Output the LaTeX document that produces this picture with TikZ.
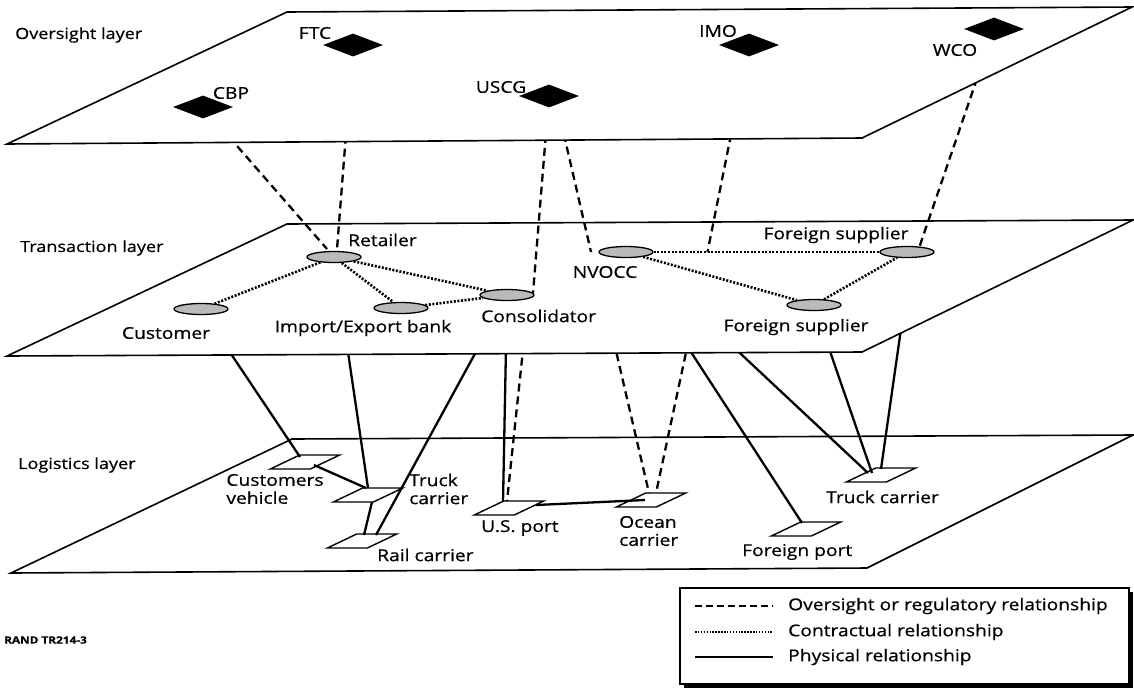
\documentclass[tikz,border=0pt]{standalone}
\usepackage{fontspec}
\setmainfont{Open Sans}[FakeStretch=1.18, FakeBold=0.6]
\usetikzlibrary{shapes.geometric,calc}
\pgfdeclarelayer{pa}\pgfdeclarelayer{pb}\pgfdeclarelayer{pc}\pgfdeclarelayer{pd}\pgfdeclarelayer{pe}
\pgfsetlayers{pa,pb,pc,pd,pe,main}
\begin{document}
\begin{tikzpicture}[x=1pt,y=-1pt,
  plane/.style={draw, fill=white, line width=1.6pt, line join=miter},
  reg/.style={diamond, fill=black, minimum width=60pt, minimum height=23pt, inner sep=0pt},
  party/.style={ellipse, draw, fill=black!27, line width=1.3pt, minimum width=54pt, minimum height=11pt, inner sep=0pt},
  site/.style={draw, fill=white, line width=1.4pt, xslant=2.1, minimum width=40pt, minimum height=14pt, inner sep=0pt},
  lbl/.style={font=\fontsize{16.3}{18}\selectfont, inner sep=0pt, align=left},
  layerlbl/.style={font=\fontsize{15.3}{17}\selectfont, anchor=west, inner sep=0pt},
  oversee/.style={line width=2.3pt, dash pattern=on 8pt off 5pt},
  contract/.style={line width=2.6pt, dash pattern=on 2pt off 1.6pt},
  phys/.style={line width=2.3pt},
]
\useasboundingbox (0,0) rectangle (1134,694);

% ---------- logistics layer ----------
\begin{pgfonlayer}{pa}
\draw[plane] (292,439) -- (1133,435) -- (867,568) -- (11,573) -- cycle;
\node[layerlbl] at (18,465) {Logistics layer};
\node[site] (cv)   at (305,462) {};
\node[site] (tcl)  at (368,495) {};
\node[site] (rail) at (362,541) {};
\node[site] (usp)  at (509,508) {};
\node[site] (ocn)  at (651,500) {};
\node[site] (fpt)  at (806,529) {};
\node[site] (tcr)  at (881,475) {};
\node[lbl, anchor=center] at (275,489) {Customers\\vehicle};
\node[lbl, anchor=west] at (409,489) {Truck\\carrier};
\node[lbl, anchor=west] at (377,555) {Rail carrier};
\node[lbl, anchor=west] at (481,528) {U.S. port};
\node[lbl, anchor=west] at (619,531) {Ocean\\carrier};
\node[lbl, anchor=west] at (742,552) {Foreign port};
\node[lbl, anchor=west] at (826,497) {Truck carrier};
\end{pgfonlayer}

% ---------- transaction layer ----------
\begin{pgfonlayer}{pc}
\draw[plane] (287,224) -- (1133,220) -- (862,352) -- (7,356) -- cycle;
\node[layerlbl] at (20,248) {Transaction layer};
\end{pgfonlayer}

\begin{pgfonlayer}{pd}
\node[party] (ret)  at (334,257) {};
\node[party] (cust) at (201,309) {};
\node[party] (bank) at (401,308) {};
\node[party] (cons) at (507,295) {};
\node[party] (nvo)  at (626,252) {};
\node[party] (fst)  at (907,252) {};
\node[party] (fsb)  at (814,305) {};
\node[lbl, anchor=west] at (348,240) {Retailer};
\node[lbl] at (166,333) {Customer};
\node[lbl] at (363,328) {Import/Export bank};
\node[lbl, anchor=west] at (481,316) {Consolidator};
\node[lbl] at (605,272) {NVOCC};
\node[lbl] at (836,235) {Foreign supplier};
\node[lbl] at (796,327) {Foreign supplier};
\coordinate (imot) at ($(nvo)!0.29!(fst)$);
\draw[contract] (ret) -- (cust);
\draw[contract] (ret) -- (bank);
\draw[contract] (ret) -- (cons);
\draw[contract] (bank) -- (cons);
\draw[contract] (nvo) -- (fst);
\draw[contract] (nvo) -- (fsb);
\draw[contract] (fsb) -- (fst);
\end{pgfonlayer}

% ---------- oversight layer ----------
\begin{pgfonlayer}{pe}
\draw[plane] (287,12) -- (1132,7) -- (862,138) -- (7,144) -- cycle;
\node[layerlbl] at (15,35) {Oversight layer};
\end{pgfonlayer}
\node[reg] (ftc)  at (353,45) {};
\node[reg] (cbp)  at (203,107) {};
\node[reg] (uscg) at (549,96) {};
\node[reg] (imo)  at (749,45) {};
\node[reg] (wco)  at (994,29) {};
\node[lbl] at (315,33) {FTC};
\node[lbl] at (231,93) {CBP};
\node[lbl] at (501,87) {USCG};
\node[lbl] at (718,31) {IMO};
\node[lbl] at (955,50) {WCO};

% ---------- links hidden under transaction layer ----------
\begin{pgfonlayer}{pb}
\draw[phys] (cust.center) -- ($(cv.center)+(-5,-5)$);
\draw[phys] (ret.center) -- ($(tcl.center)+(0,-7)$);
\draw[phys] (cons.center) -- ($(rail.center)+(14,-6)$);
\draw[phys] (cons.center) -- ($(usp.center)+(-6,-6)$);
\draw[phys] (nvo.center) -- ($(fpt.center)+(-4,-6)$);
\draw[phys] ($(nvo.center)+(6,0)$) -- ($(tcr.center)+(-13,-2)$);
\draw[phys] (fsb.center) -- ($(tcr.center)+(-9,-2)$);
\draw[phys] ($(fst.center)+(5,0)$) -- ($(tcr.center)+(0,-6)$);
\draw[oversee] ($(cons.center)+(22,-2)$) -- ($(usp.center)+(-2,-7)$);
\draw[oversee] ($(nvo.center)+(-33,0)$) -- ($(ocn.center)+(-2,-7)$);
\draw[oversee] (imot) -- ($(ocn.center)+(5,-7)$);
\draw[phys] ($(cv.center)+(9,3)$) -- ($(tcl.center)+(-2,-7)$);
\draw[phys] ($(tcl.center)+(4,7)$) -- ($(rail.center)+(2,-6)$);
\draw[phys] ($(usp.center)+(27,-3)$) -- ($(ocn.center)+(-6,0)$);
\end{pgfonlayer}

% ---------- oversight links (hidden under oversight layer) ----------
\begin{pgfonlayer}{pd}
\draw[oversee] (cbp.center) -- ($(ret.center)+(-7,-8)$);
\draw[oversee] (ftc.center) -- ($(ret.center)+(3,-8)$);
\draw[oversee] (uscg.center) -- ($(cons.center)+(26,-2)$);
\draw[oversee] ($(uscg.center)+(6,0)$) -- ($(nvo.center)+(-35,0)$);
\draw[oversee] (imo.center) -- (imot);
\draw[oversee] (wco.center) -- ($(fst.center)+(12,-4)$);
\end{pgfonlayer}

% ---------- legend ----------
\fill[black] (684,592) rectangle (1133,688);
\draw[fill=white, line width=1.1pt] (680,588) rectangle (1129,684);
\coordinate (la1) at (695,606); \coordinate (lb1) at (773,606);
\coordinate (la2) at (695,632); \coordinate (lb2) at (773,632);
\coordinate (la3) at (695,657); \coordinate (lb3) at (773,657);
\draw[line width=1.9pt, dash pattern=on 7pt off 4pt] (la1) -- (lb1);
\draw[line width=1.9pt, dash pattern=on 1.5pt off 1.4pt] (la2) -- (lb2);
\draw[line width=1.9pt] (la3) -- (lb3);
\node[lbl, anchor=west] at (788,606) {Oversight or regulatory relationship};
\node[lbl, anchor=west] at (788,632) {Contractual relationship};
\node[lbl, anchor=west] at (788,657) {Physical relationship};
\node[font=\fontsize{10}{12}\selectfont\bfseries, anchor=west, inner sep=0pt] at (4,640) {RAND TR214-3};
\end{tikzpicture}
\end{document}
